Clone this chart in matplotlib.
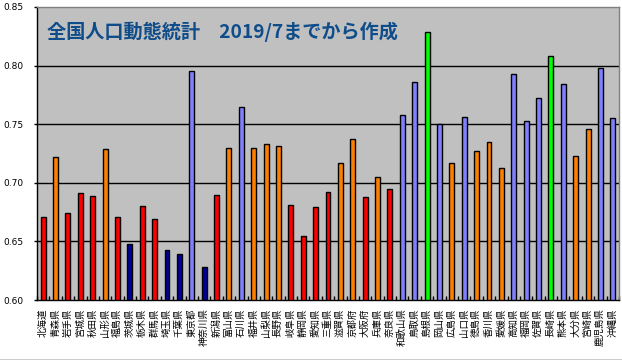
import numpy as np
import matplotlib
matplotlib.use('Agg')
import matplotlib.pyplot as plt

plt.rcParams['font.family'] = ['Noto Sans CJK JP', 'DejaVu Sans']

# prefectures in order
prefs = ['北海道', '青森県', '岩手県', '宮城県', '秋田県', '山形県', '福島県', '茨城県',
         '栃木県', '群馬県', '埼玉県', '千葉県', '東京都', '神奈川県', '新潟県', '富山県',
         '石川県', '福井県', '山梨県', '長野県', '岐阜県', '静岡県', '愛知県', '三重県',
         '滋賀県', '京都府', '大阪府', '兵庫県', '奈良県', '和歌山県', '鳥取県', '島根県',
         '岡山県', '広島県', '山口県', '徳島県', '香川県', '愛媛県', '高知県', '福岡県',
         '佐賀県', '長崎県', '熊本県', '大分県', '宮崎県', '鹿児島県', '沖縄県']

values = [0.671, 0.722, 0.674, 0.691, 0.689, 0.729, 0.671, 0.648,
          0.680, 0.669, 0.643, 0.639, 0.795, 0.628, 0.690, 0.730,
          0.765, 0.730, 0.733, 0.731, 0.681, 0.655, 0.679, 0.692,
          0.717, 0.737, 0.688, 0.705, 0.695, 0.758, 0.786, 0.829,
          0.750, 0.717, 0.756, 0.727, 0.735, 0.713, 0.793, 0.753,
          0.772, 0.808, 0.784, 0.723, 0.746, 0.798, 0.755]

# colour group of each bar: r=red, o=orange, n=navy, b=light blue, g=green
groups = ['r', 'o', 'r', 'r', 'r', 'o', 'r', 'n',
          'r', 'r', 'n', 'n', 'b', 'n', 'r', 'o',
          'b', 'o', 'o', 'o', 'r', 'r', 'r', 'r',
          'o', 'o', 'r', 'o', 'r', 'b', 'b', 'g',
          'b', 'o', 'b', 'o', 'o', 'o', 'b', 'b',
          'b', 'g', 'b', 'o', 'o', 'b', 'b']

palette = {'r': '#FF0000', 'o': '#FF8000', 'n': '#000099',
           'b': '#8080FF', 'g': '#00FF00'}

yticks = [0.60, 0.65, 0.70, 0.75, 0.80, 0.85]

fig = plt.figure(figsize=(6.22, 3.60), dpi=100)
ax = fig.add_axes([37/622, 60/360, 582/622, 293/360])
ax.set_facecolor('#C0C0C0')

x = np.arange(len(prefs))
ax.bar(x, np.array(values) - 0.60, bottom=0.60, width=0.40,
       color=[palette[g] for g in groups], edgecolor='black', linewidth=1.0, zorder=3)

ax.set_xlim(-0.5, len(prefs) - 0.5)
ax.set_ylim(0.60, 0.85)
ax.set_yticks(yticks)
ax.set_yticklabels(['%.2f' % t for t in yticks], fontsize=6.5, family='DejaVu Sans')
ax.tick_params(axis='y', direction='out', length=2, width=1, pad=8)
for t in yticks[1:-1]:
    ax.axhline(t, color='black', linewidth=1.0, zorder=1)

ax.set_xticks(x)
ax.set_xticklabels(prefs, rotation=90, fontsize=6.8)
ax.tick_params(axis='x', length=0, pad=6)
ax.set_xticks(np.arange(-0.5, len(prefs)), minor=True)
ax.tick_params(axis='x', which='minor', direction='in', length=3, width=1)

ax.spines['left'].set_color('black')
ax.spines['bottom'].set_color('black')
ax.spines['top'].set_color('#808080')
ax.spines['right'].set_color('#808080')
for s in ax.spines.values():
    s.set_linewidth(1.0)

fig.text(47/622, 1 - 32/360, '全国人口動態統計　2019/7までから作成',
         fontsize=13.8, fontweight='bold', color='#0F4C8A', va='center', ha='left')

fig.add_artist(plt.Line2D([0, 1], [0.5/360, 0.5/360], color='black', linewidth=1.0))

fig.savefig('out.png', dpi=100)
